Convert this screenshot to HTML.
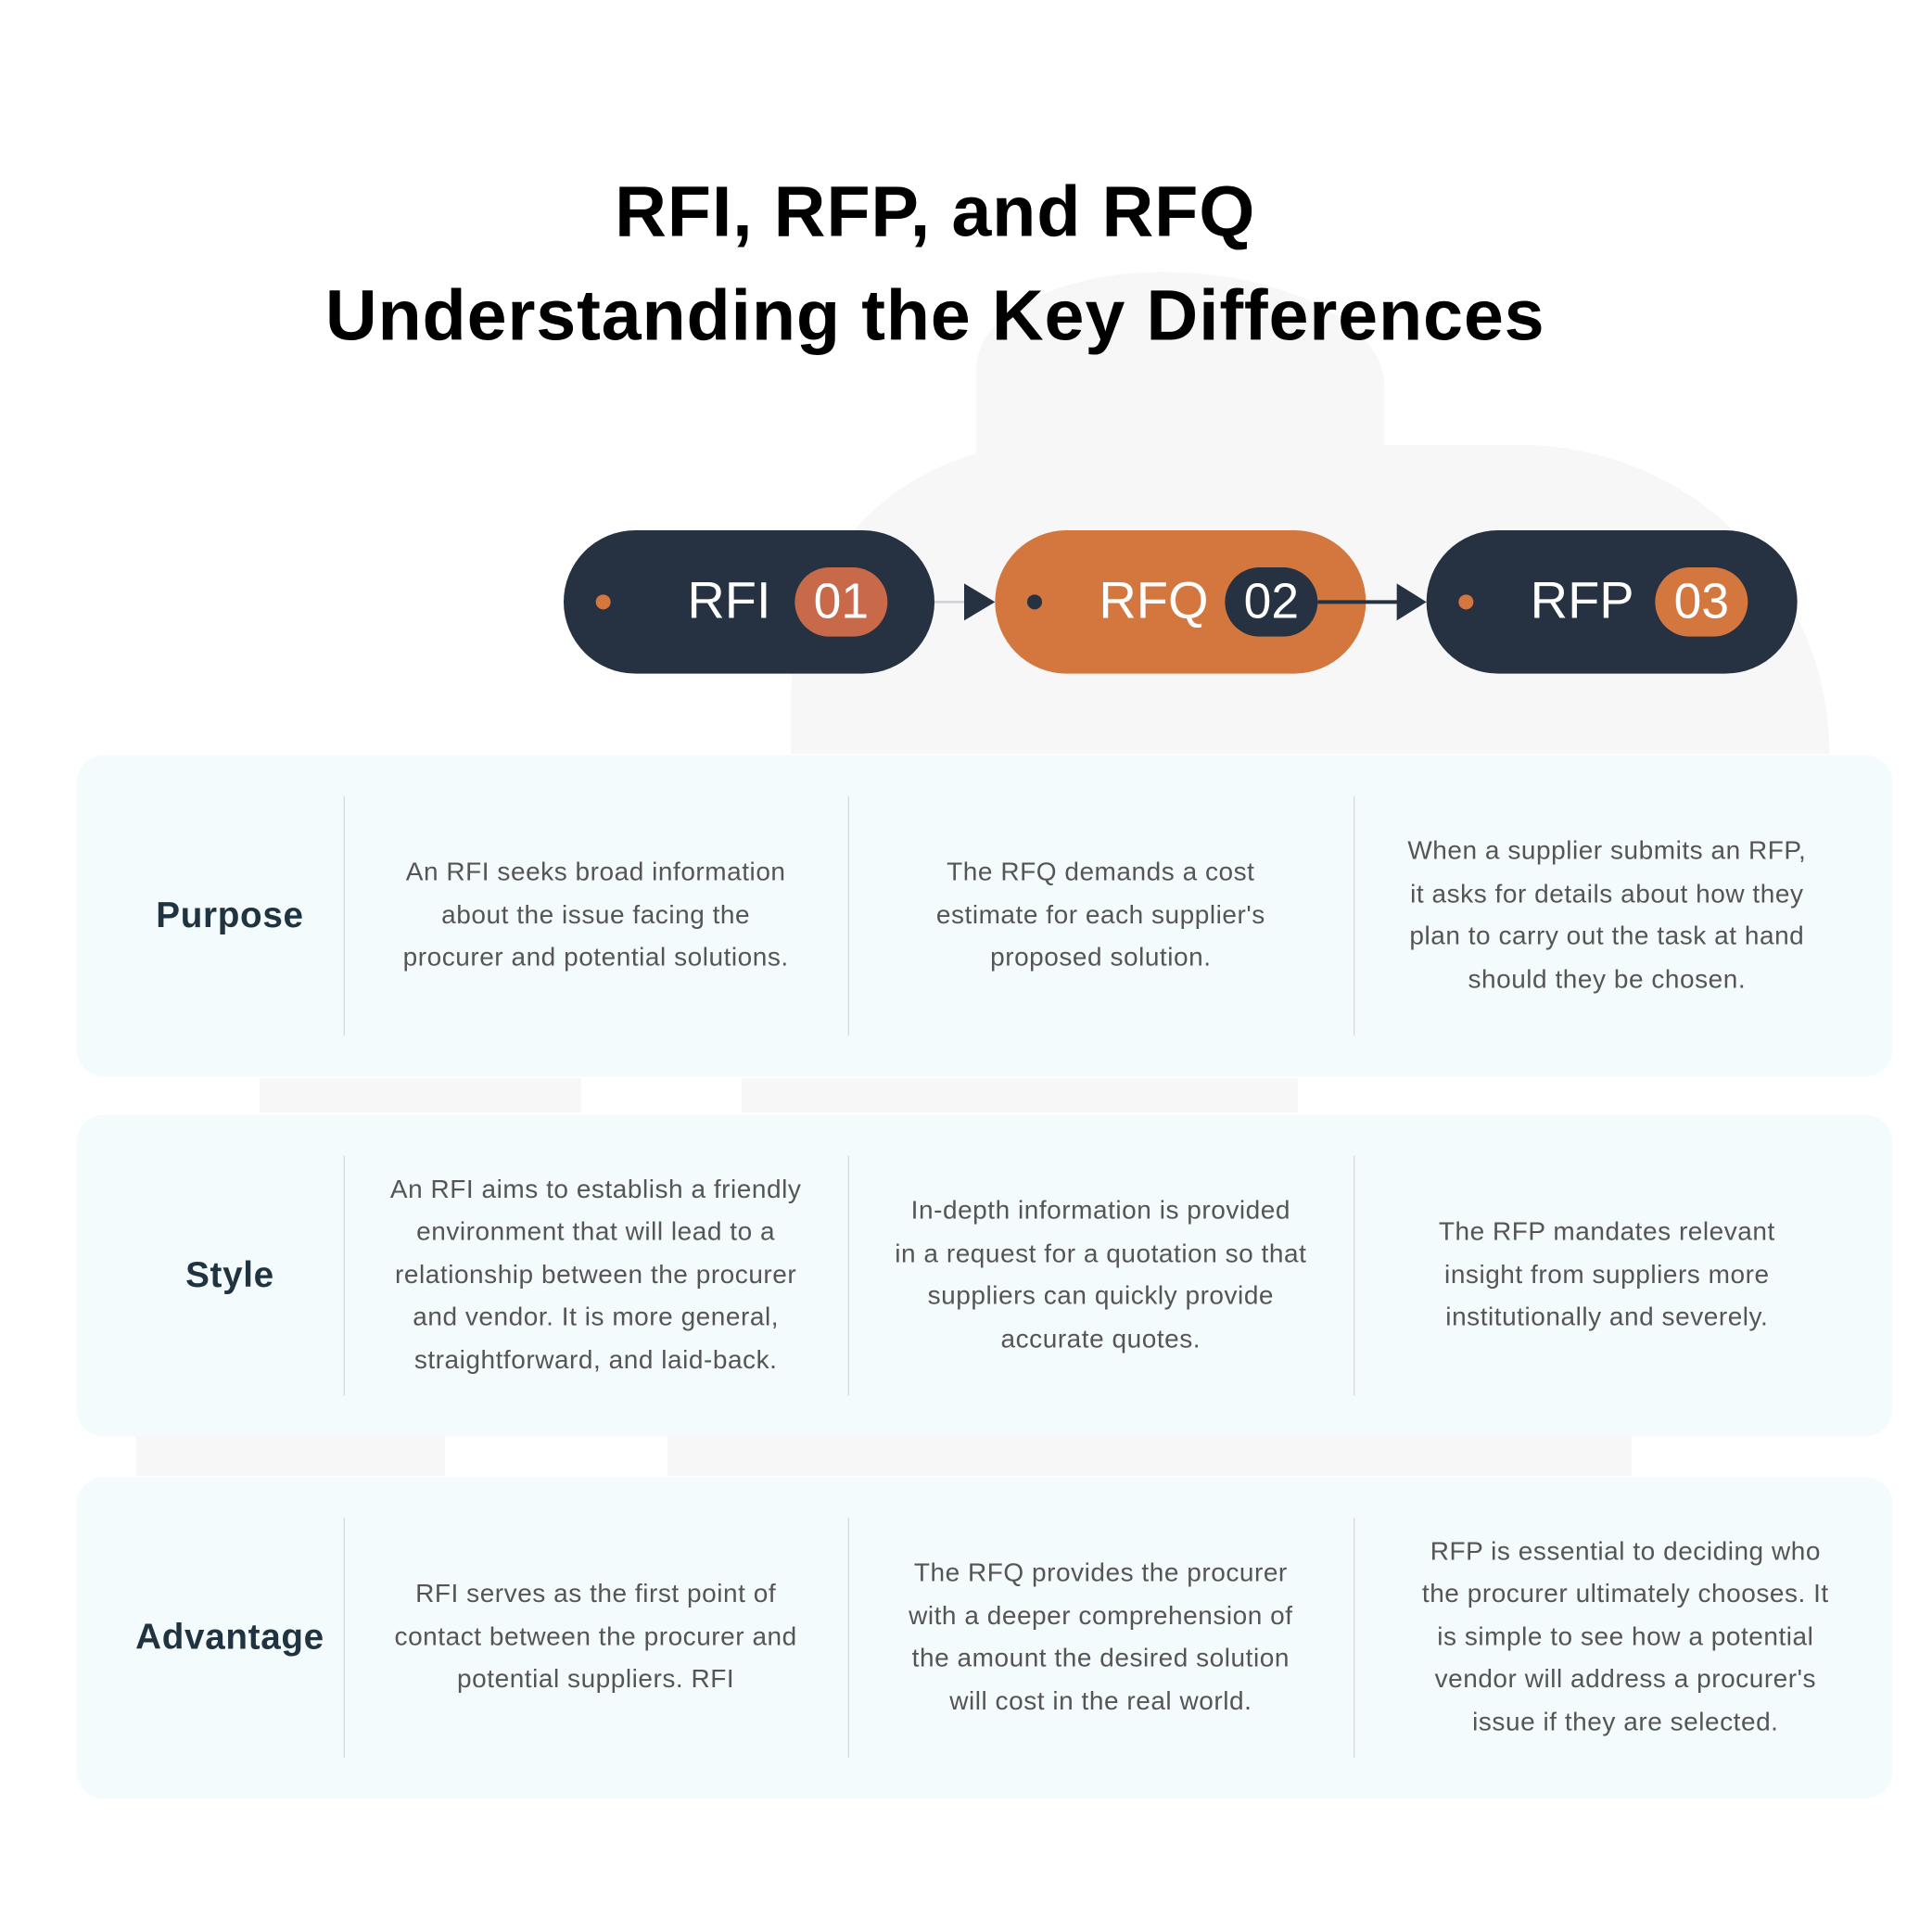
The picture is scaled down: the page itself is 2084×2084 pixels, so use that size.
<!DOCTYPE html>
<html><head><meta charset="utf-8"><style>
html,body{margin:0;padding:0;background:#fff;}
body{width:2084px;height:2084px;overflow:hidden;position:relative;font-family:"Liberation Sans",sans-serif;}
#s{position:absolute;left:0;top:0;width:1563px;height:1563px;transform:scale(1.33333);transform-origin:0 0;}
.a{position:absolute;}
.title{left:0;width:1513px;text-align:center;font-weight:bold;font-size:58px;color:#000;letter-spacing:0.6px;}
.pill{height:116px;width:300px;border-radius:58px;top:429px;}
.dot{width:12px;height:12px;border-radius:6px;top:52px;left:26px;}
.pt{color:#fff;font-size:42px;top:33px;}
.badge{width:75px;height:56px;border-radius:28px;top:30px;color:#fff;font-size:40px;text-align:center;line-height:56px;}
.row{left:62px;width:1469px;height:260px;background:#f3fbfc;border-radius:22px;}
.div{width:1px;background:#d6dcdc;top:33px;bottom:33px;}
.lab{left:0;width:248px;top:0;height:100%;display:flex;align-items:center;justify-content:center;font-weight:bold;font-size:29px;color:#1f3340;letter-spacing:0.5px;}
.cell{top:0;height:100%;display:flex;align-items:center;justify-content:center;text-align:center;font-size:21px;line-height:34.5px;color:#555;letter-spacing:0.4px;}
.map{background:#f7f7f7;}
</style></head><body><div id="s">
<div class="a map" style="left:640px;top:360px;width:840px;height:250px;border-radius:260px 320px 0 0;"></div>
<div class="a map" style="left:790px;top:220px;width:330px;height:170px;border-radius:50% 60% 0 0;"></div>
<div class="a map" style="left:210px;top:872px;width:260px;height:28px;"></div>
<div class="a map" style="left:600px;top:872px;width:450px;height:28px;"></div>
<div class="a map" style="left:110px;top:1162px;width:250px;height:32px;"></div>
<div class="a map" style="left:540px;top:1162px;width:780px;height:32px;"></div>
<div class="a title" style="top:138px;">RFI, RFP, and RFQ</div>
<div class="a title" style="top:222px;">Understanding the Key Differences</div>

<div class="a pill" style="left:456px;background:#263142;">
 <div class="a dot" style="background:#d4773f;left:26px"></div>
 <div class="a pt" style="left:100px">RFI</div>
 <div class="a badge" style="left:187px;background:#c8694a">01</div>
</div>
<div class="a pill" style="left:805px;background:#d4773f;">
 <div class="a dot" style="background:#263142;left:26px"></div>
 <div class="a pt" style="left:84px">RFQ</div>
 <div class="a badge" style="left:186px;background:#263142">02</div>
</div>
<div class="a pill" style="left:1154px;background:#263142;">
 <div class="a dot" style="background:#d4773f;left:26px"></div>
 <div class="a pt" style="left:84px">RFP</div>
 <div class="a badge" style="left:185px;background:#d4773f">03</div>
</div>
<svg class="a" style="left:0;top:0" width="1563" height="1563">
 <line x1="756" y1="487" x2="782" y2="487" stroke="#cfd3d8" stroke-width="2"/>
 <polygon points="780,472 805,487 780,502" fill="#263142"/>
 <line x1="1066" y1="487" x2="1132" y2="487" stroke="#263142" stroke-width="3"/>
 <polygon points="1130,472 1154,487 1130,502" fill="#263142"/>
</svg>

<div class="a row" style="top:611px;">
 <div class="a lab">Purpose</div>
 <div class="a div" style="left:216px"></div><div class="a div" style="left:624px"></div><div class="a div" style="left:1033px"></div>
 <div class="a cell" style="left:216px;width:408px">An RFI seeks broad information<br>about the issue facing the<br>procurer and potential solutions.</div>
 <div class="a cell" style="left:624px;width:409px">The RFQ demands a cost<br>estimate for each supplier's<br>proposed solution.</div>
 <div class="a cell" style="left:1033px;width:410px">When a supplier submits an RFP,<br>it asks for details about how they<br>plan to carry out the task at hand<br>should they be chosen.</div>
</div>
<div class="a row" style="top:902px;">
 <div class="a lab">Style</div>
 <div class="a div" style="left:216px"></div><div class="a div" style="left:624px"></div><div class="a div" style="left:1033px"></div>
 <div class="a cell" style="left:216px;width:408px">An RFI aims to establish a friendly<br>environment that will lead to a<br>relationship between the procurer<br>and vendor. It is more general,<br>straightforward, and laid-back.</div>
 <div class="a cell" style="left:624px;width:409px">In-depth information is provided<br>in a request for a quotation so that<br>suppliers can quickly provide<br>accurate quotes.</div>
 <div class="a cell" style="left:1033px;width:410px">The RFP mandates relevant<br>insight from suppliers more<br>institutionally and severely.</div>
</div>
<div class="a row" style="top:1195px;">
 <div class="a lab">Advantage</div>
 <div class="a div" style="left:216px"></div><div class="a div" style="left:624px"></div><div class="a div" style="left:1033px"></div>
 <div class="a cell" style="left:216px;width:408px">RFI serves as the first point of<br>contact between the procurer and<br>potential suppliers. RFI</div>
 <div class="a cell" style="left:624px;width:409px">The RFQ provides the procurer<br>with a deeper comprehension of<br>the amount the desired solution<br>will cost in the real world.</div>
 <div class="a cell" style="left:1033px;width:440px">RFP is essential to deciding who<br>the procurer ultimately chooses. It<br>is simple to see how a potential<br>vendor will address a procurer's<br>issue if they are selected.</div>
</div>
</div></body></html>
